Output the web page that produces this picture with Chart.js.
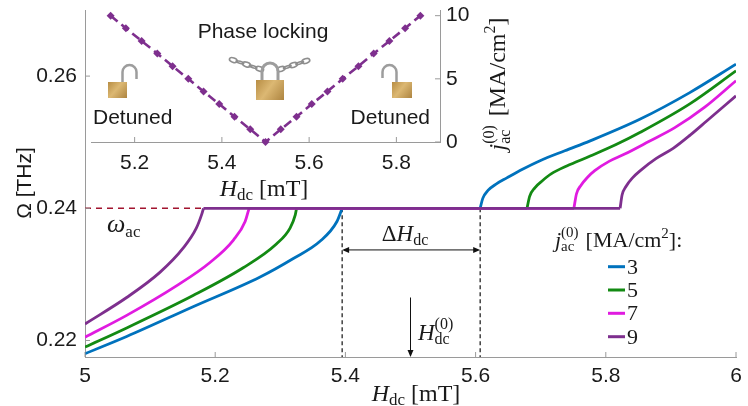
<!DOCTYPE html>
<html>
<head>
<meta charset="utf-8">
<script src="https://cdn.jsdelivr.net/npm/chart.js@4.4.1/dist/chart.umd.min.js"></script>
<style>
  html, body { margin: 0; padding: 0; background: #fff; }
  #wrap { position: relative; width: 748px; height: 406px; overflow: hidden; }
  #main, #inset { position: absolute; left: 0; top: 0; }
</style>
</head>
<body>
<div id="wrap">
  <canvas id="main" width="748" height="406"></canvas>
  <canvas id="inset" width="520" height="210"></canvas>
</div>
<script>
// ---- data ----
const seriesLabels = ['3', '5', '7', '9'];
const seriesColors = ['#0072BD', '#138A13', '#E01BE0', '#7E2F8E'];

// left branches (below locking) : H_dc [mT], Omega [THz]
const hLeft3 = [5.0, 5.064, 5.166, 5.269, 5.32, 5.361, 5.387, 5.395];
const omLeft3 = [0.2180, 0.2206, 0.2251, 0.2296, 0.2324, 0.2350, 0.2380, 0.2400];
const hLeft5 = [5.0, 5.064, 5.166, 5.243, 5.294, 5.315, 5.323, 5.325];
const omLeft5 = [0.2190, 0.2219, 0.2268, 0.2310, 0.2346, 0.2370, 0.2390, 0.2400];
const hLeft7 = [5.0, 5.064, 5.141, 5.192, 5.228, 5.246, 5.252];
const omLeft7 = [0.2205, 0.2238, 0.2283, 0.2318, 0.2352, 0.2380, 0.2400];
const hLeft9 = [5.0, 5.064, 5.115, 5.151, 5.171, 5.179, 5.182];
const omLeft9 = [0.2225, 0.2265, 0.2303, 0.2340, 0.2370, 0.2390, 0.2400];

// right branches (above locking)
const hRight3 = [5.607, 5.611, 5.619, 5.632, 5.648, 5.672, 5.699, 5.737, 5.776, 5.853, 5.929, 6.0];
const omRight3 = [0.2400, 0.2415, 0.2427, 0.2437, 0.2446, 0.2459, 0.2472, 0.2487, 0.2502, 0.2535, 0.2575, 0.2618];
const hRight5 = [5.679, 5.683, 5.691, 5.703, 5.716, 5.74, 5.776, 5.815, 5.853, 5.929, 6.0];
const omRight5 = [0.2400, 0.2418, 0.2431, 0.2442, 0.2452, 0.2464, 0.2479, 0.2496, 0.2515, 0.2558, 0.2608];
const hRight7 = [5.751, 5.755, 5.762, 5.772, 5.783, 5.805, 5.829, 5.866, 5.906, 5.952, 6.0];
const omRight7 = [0.2400, 0.2422, 0.2435, 0.2447, 0.2457, 0.2471, 0.2482, 0.2501, 0.2522, 0.2553, 0.2593];
const hRight9 = [5.822, 5.825, 5.831, 5.841, 5.853, 5.877, 5.904, 5.93, 5.955, 6.0];
const omRight9 = [0.2400, 0.2420, 0.2433, 0.2446, 0.2457, 0.2475, 0.2491, 0.2511, 0.2532, 0.2570];

// omega_ac reference line
const acH = [5.0, 5.182];
const acOm = [0.24, 0.24];

// locking range of j=3 and the annotation arrows
const lockRange = [5.395, 5.607];
const deltaArrowOm = 0.2337;
const h0 = 5.5;
const h0ArrowTop = 0.2265;

// inset: locking threshold
const insetH = [5.145, 5.18, 5.216, 5.252, 5.287, 5.323, 5.358, 5.394, 5.429, 5.465, 5.5,
                5.535, 5.571, 5.606, 5.642, 5.677, 5.713, 5.748, 5.784, 5.82, 5.855];
const insetJ = [10, 9, 8, 7, 6, 5, 4, 3, 2, 1, 0, 1, 2, 3, 4, 5, 6, 7, 8, 9, 10];

const xTicks = [5, 5.2, 5.4, 5.6, 5.8, 6];
const yTicks = [0.22, 0.24, 0.26];
const insetXTicks = [5.2, 5.4, 5.6, 5.8];
const insetYTicks = [0, 5, 10];

// ---- styling helpers ----
const SANS = '"Liberation Sans", Arial, sans-serif';
const SERIF = '"Liberation Serif", "DejaVu Serif", serif';
const it = s => `italic ${s}px ${SERIF}`;
const rm = s => `${s}px ${SERIF}`;
const TXT = '#1a1a1a';
const AXIS = '#9a9a9a';

const pts = (xs, ys) => xs.map((x, i) => ({ x, y: ys[i] }));

function drawRuns(ctx, x, y, runs, align) {
  const widths = runs.map(r => {
    if (r.stack) {
      const ws = r.stack.map(s => { ctx.font = s.f; return ctx.measureText(s.t).width; });
      return Math.max(...ws) + (r.gap || 0);
    }
    ctx.font = r.f;
    return ctx.measureText(r.t).width + (r.gap || 0);
  });
  const w = widths.reduce((a, b) => a + b, 0);
  let cx = align === 'center' ? x - w / 2 : align === 'right' ? x - w : x;
  ctx.textAlign = 'left';
  ctx.textBaseline = 'alphabetic';
  runs.forEach((r, i) => {
    if (r.stack) r.stack.forEach(s => { ctx.font = s.f; ctx.fillText(s.t, cx, y + s.dy); });
    else { ctx.font = r.f; ctx.fillText(r.t, cx, y + (r.dy || 0)); }
    cx += widths[i];
  });
}

function arrowHead(ctx, x, y, ang) {
  ctx.save();
  ctx.translate(x, y);
  ctx.rotate(ang);
  ctx.beginPath();
  ctx.moveTo(0, 0);
  ctx.lineTo(-7, -3);
  ctx.lineTo(-7, 3);
  ctx.closePath();
  ctx.fill();
  ctx.restore();
}

function inwardTicks(ctx, scale, values, side, area) {
  ctx.strokeStyle = AXIS;
  ctx.lineWidth = 1;
  values.forEach(v => {
    const p = scale.getPixelForValue(v);
    ctx.beginPath();
    if (side === 'bottom') { ctx.moveTo(p, area.bottom); ctx.lineTo(p, area.bottom - 5); }
    if (side === 'left') { ctx.moveTo(area.left, p); ctx.lineTo(area.left + 5, p); }
    if (side === 'right') { ctx.moveTo(area.right, p); ctx.lineTo(area.right - 5, p); }
    ctx.stroke();
  });
}

// ---- main chart ----
const branches = [
  [hLeft3, omLeft3, hRight3, omRight3],
  [hLeft5, omLeft5, hRight5, omRight5],
  [hLeft7, omLeft7, hRight7, omRight7],
  [hLeft9, omLeft9, hRight9, omRight9]
];

const datasets = [];
branches.forEach(([hl, ol, hr, or], i) => {
  const base = {
    showLine: true, borderColor: seriesColors[i], borderWidth: 2.8,
    pointRadius: 0, order: 40 - i * 10
  };
  datasets.push({ ...base, data: pts(hl, ol), cubicInterpolationMode: 'monotone' });
  datasets.push({ ...base, data: [{ x: hl[hl.length - 1], y: ol[ol.length - 1] }, { x: hr[0], y: or[0] }] });
  datasets.push({ ...base, data: pts(hr, or), cubicInterpolationMode: 'monotone' });
});
datasets.push({
  data: pts(acH, acOm), showLine: true, borderColor: '#A2142F', borderWidth: 1.5,
  borderDash: [6, 5], pointRadius: 0, order: 45
});
lockRange.forEach(h => {
  datasets.push({
    data: [{ x: h, y: 0.24 }, { x: h, y: 0.2175 }], showLine: true, borderColor: '#111',
    borderWidth: 1.2, borderDash: [4, 3], pointRadius: 0, order: 50
  });
});

const mainDecor = {
  id: 'mainDecor',
  afterDraw(chart) {
    const { ctx, chartArea: a, scales: { x, y } } = chart;
    ctx.save();
    inwardTicks(ctx, x, xTicks, 'bottom', a);
    inwardTicks(ctx, y, yTicks, 'left', a);

    ctx.fillStyle = TXT;
    // axis titles
    drawRuns(ctx, 416, 401, [{ t: 'H', f: it(24) }, { t: 'dc', f: rm(17), dy: 4, gap: 6 }, { t: '[mT]', f: rm(24) }], 'center');
    ctx.save();
    ctx.translate(31, 183);
    ctx.rotate(-Math.PI / 2);
    ctx.font = `21px ${SANS}`;
    ctx.textAlign = 'center';
    ctx.fillText('Ω [THz]', 0, 0);
    ctx.restore();

    // omega_ac
    drawRuns(ctx, 107, 232, [{ t: 'ω', f: it(26) }, { t: 'ac', f: rm(17), dy: 5 }], 'left');

    // Delta H arrow
    ctx.strokeStyle = '#111';
    ctx.fillStyle = '#111';
    ctx.lineWidth = 1;
    const xa = x.getPixelForValue(lockRange[0]);
    const xb = x.getPixelForValue(lockRange[1]);
    const ya = y.getPixelForValue(deltaArrowOm);
    ctx.beginPath(); ctx.moveTo(xa + 2, ya); ctx.lineTo(xb - 2, ya); ctx.stroke();
    arrowHead(ctx, xa, ya, Math.PI);
    arrowHead(ctx, xb, ya, 0);
    ctx.fillStyle = TXT;
    drawRuns(ctx, 405, 241, [{ t: 'Δ', f: rm(23) }, { t: 'H', f: it(23) }, { t: 'dc', f: rm(16), dy: 4 }], 'center');

    // H_dc^(0) arrow
    const xh = x.getPixelForValue(h0);
    ctx.fillStyle = '#111';
    ctx.beginPath(); ctx.moveTo(xh, y.getPixelForValue(h0ArrowTop)); ctx.lineTo(xh, a.bottom - 3); ctx.stroke();
    arrowHead(ctx, xh, a.bottom, Math.PI / 2);
    ctx.fillStyle = TXT;
    drawRuns(ctx, 418, 340, [{ t: 'H', f: it(23) },
      { stack: [{ t: '(0)', f: rm(16), dy: -11 }, { t: 'dc', f: rm(16), dy: 4 }] }], 'left');

    // legend
    drawRuns(ctx, 555, 247, [{ t: 'j', f: it(22) },
      { stack: [{ t: '(0)', f: rm(15), dy: -10 }, { t: 'ac', f: rm(15), dy: 4 }], gap: 7 },
      { t: '[MA/cm', f: rm(22) }, { t: '2', f: rm(15), dy: -9 }, { t: ']:', f: rm(22) }], 'left');
    const rows = [266.7, 290, 313.3, 336.7];
    seriesLabels.forEach((lab, i) => {
      ctx.strokeStyle = seriesColors[i];
      ctx.lineWidth = 3;
      ctx.beginPath(); ctx.moveTo(608, rows[i]); ctx.lineTo(625, rows[i]); ctx.stroke();
      ctx.fillStyle = TXT;
      ctx.font = rm(22);
      ctx.textAlign = 'left';
      ctx.fillText(lab, 627, rows[i] + 7);
    });
    ctx.restore();
  }
};

new Chart(document.getElementById('main'), {
  type: 'scatter',
  data: { datasets },
  options: {
    responsive: false,
    animation: false,
    events: [],
    layout: { padding: { left: 0, right: 12, top: 10, bottom: 0 } },
    plugins: { legend: { display: false }, tooltip: { enabled: false } },
    scales: {
      x: {
        type: 'linear', min: 5, max: 6,
        grid: { display: false, drawTicks: false },
        border: { color: AXIS, width: 1 },
        ticks: { padding: 7, color: TXT, font: { family: SANS, size: 21 }, callback: v => String(+v.toFixed(1)) },
        afterBuildTicks: s => { s.ticks = xTicks.map(v => ({ value: v })); },
        afterFit: s => { s.height = 49; s.paddingLeft = 0; s.paddingRight = 0; }
      },
      y: {
        type: 'linear', min: 0.2175, max: 0.27,
        grid: { display: false, drawTicks: false },
        border: { color: AXIS, width: 1 },
        ticks: { padding: 8, color: TXT, font: { family: SANS, size: 21 }, callback: v => v.toFixed(2) },
        afterBuildTicks: s => { s.ticks = yTicks.map(v => ({ value: v })); },
        afterFit: s => { s.width = 85; s.paddingTop = 0; s.paddingBottom = 0; }
      }
    }
  },
  plugins: [mainDecor]
});

// ---- inset ----
function lock(ctx, body, shackle, lw) {
  const [bx, by, bw, bh] = body;
  const [sx, sr, sTop, legL, legR] = shackle;
  const cy = sTop + sr;
  ctx.strokeStyle = '#9d9d9d';
  ctx.lineWidth = lw;
  ctx.beginPath();
  ctx.moveTo(sx - sr, legL);
  ctx.lineTo(sx - sr, cy);
  ctx.arc(sx, cy, sr, Math.PI, 0);
  ctx.lineTo(sx + sr, legR);
  ctx.stroke();
  const g = ctx.createLinearGradient(bx, by, bx + bw, by + bh);
  g.addColorStop(0, '#b78d44');
  g.addColorStop(0.45, '#dcb873');
  g.addColorStop(1, '#ad8440');
  ctx.fillStyle = g;
  ctx.fillRect(bx, by, bw, bh);
}

function chain(ctx, x0, y0, x1, y1, n) {
  const ang = Math.atan2(y1 - y0, x1 - x0);
  ctx.strokeStyle = '#8e8e8e';
  ctx.lineWidth = 1.6;
  for (let i = 0; i < n; i++) {
    const t = (i + 0.5) / n;
    ctx.save();
    ctx.translate(x0 + (x1 - x0) * t, y0 + (y1 - y0) * t);
    ctx.rotate(ang);
    ctx.beginPath();
    ctx.ellipse(0, 0, 4, i % 2 ? 1 : 2.3, 0, 0, Math.PI * 2);
    ctx.stroke();
    ctx.restore();
  }
}

const insetDecor = {
  id: 'insetDecor',
  afterDraw(chart) {
    const { ctx, chartArea: a, scales: { x, y } } = chart;
    ctx.save();
    inwardTicks(ctx, x, insetXTicks, 'bottom', a);
    inwardTicks(ctx, y, insetYTicks, 'right', a);

    ctx.fillStyle = TXT;
    ctx.font = `21px ${SANS}`;
    ctx.textAlign = 'center';
    ctx.fillText('Phase locking', 263, 38);
    ctx.textAlign = 'left';
    ctx.fillText('Detuned', 93, 124);
    ctx.textAlign = 'right';
    ctx.fillText('Detuned', 430, 124);

    chain(ctx, 230, 59, 263, 70, 5);
    chain(ctx, 278, 70, 309, 60, 5);
    lock(ctx, [108, 82, 19, 16], [129.5, 7, 65, 83, 79], 2.5);
    lock(ctx, [392, 82, 20, 16], [389.5, 7, 65, 78, 83], 2.5);
    lock(ctx, [256, 80, 28, 20], [270, 8, 63, 81, 81], 3);

    ctx.fillStyle = TXT;
    drawRuns(ctx, 264, 196, [{ t: 'H', f: it(24) }, { t: 'dc', f: rm(17), dy: 4, gap: 6 }, { t: '[mT]', f: rm(24) }], 'center');
    ctx.save();
    ctx.translate(505, 84);
    ctx.rotate(-Math.PI / 2);
    drawRuns(ctx, 0, 0, [{ t: 'j', f: it(24) },
      { stack: [{ t: '(0)', f: rm(16), dy: -11 }, { t: 'ac', f: rm(16), dy: 5 }], gap: 9 },
      { t: '[MA/cm', f: rm(24) }, { t: '2', f: rm(16), dy: -10 }, { t: ']', f: rm(24) }], 'center');
    ctx.restore();
    ctx.restore();
  }
};

new Chart(document.getElementById('inset'), {
  type: 'scatter',
  data: {
    datasets: [{
      data: pts(insetH, insetJ), showLine: true,
      borderColor: '#7E2F8E', borderWidth: 2.6, borderDash: [9, 5],
      pointStyle: 'rectRot', pointRadius: 4, pointBorderWidth: 0,
      pointBackgroundColor: '#7E2F8E', clip: 8
    }]
  },
  options: {
    responsive: false,
    animation: false,
    events: [],
    layout: { padding: { left: 91, right: 0, top: 10, bottom: 0 } },
    plugins: { legend: { display: false }, tooltip: { enabled: false } },
    scales: {
      x: {
        type: 'linear', min: 5.1, max: 5.9,
        grid: { display: false, drawTicks: false },
        border: { color: AXIS, width: 1 },
        ticks: { padding: 9, color: TXT, font: { family: SANS, size: 21 }, callback: v => v.toFixed(1) },
        afterBuildTicks: s => { s.ticks = insetXTicks.map(v => ({ value: v })); },
        afterFit: s => { s.height = 68; s.paddingLeft = 0; s.paddingRight = 0; }
      },
      y: {
        type: 'linear', position: 'right', min: 0, max: 10.45,
        grid: { display: false, drawTicks: false },
        border: { color: AXIS, width: 1 },
        ticks: { padding: 6, color: TXT, font: { family: SANS, size: 21 } },
        afterBuildTicks: s => { s.ticks = insetYTicks.map(v => ({ value: v })); },
        afterFit: s => { s.width = 80; s.paddingTop = 0; s.paddingBottom = 0; }
      }
    }
  },
  plugins: [insetDecor]
});
</script>
</body>
</html>
